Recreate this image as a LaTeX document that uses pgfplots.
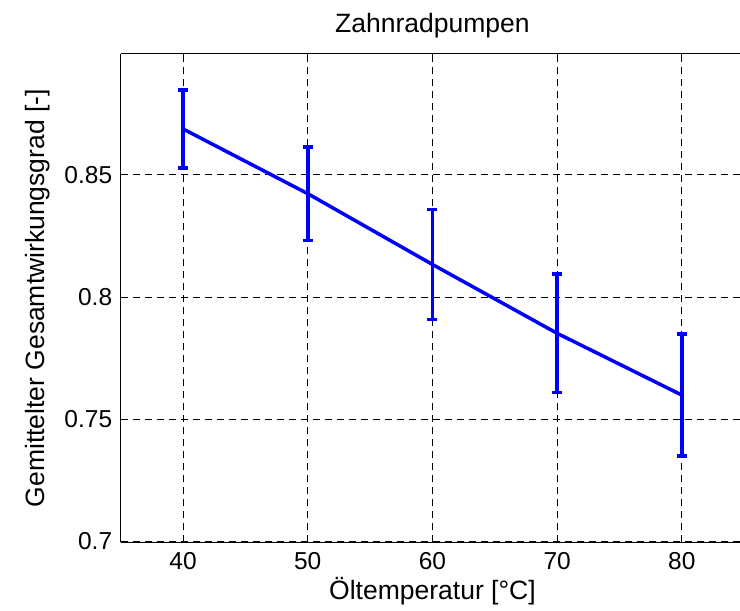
\documentclass[border=0pt]{standalone}
\usepackage{fontspec}
\setmainfont{Liberation Sans}
\usepackage{pgfplots}
\pgfplotsset{compat=1.18}

% Mean overall efficiency of gear pumps vs. oil temperature (mean +/- spread)
\begin{document}
\begin{tikzpicture}[x=1pt,y=1pt]
\begin{axis}[
  at={(120.7pt,68.7pt)}, anchor=south west,
  scale only axis,
  width=623.5pt, height=488.3pt,
  xmin=35, xmax=85,
  ymin=0.6995, ymax=0.8995,
  xtick={40,50,60,70,80},
  ytick={0.7,0.75,0.8,0.85},
  yticklabels={0.7,0.75,0.8,0.85},
  axis y line*=left,
  /pgf/number format/assume math mode=true,
  tick label style={font=\fontsize{24.5}{28}\selectfont, black},
  xticklabel style={yshift=-7pt},
  yticklabel style={xshift=-5pt},
  label style={font=\fontsize{26.5}{30}\selectfont},
  title style={font=\fontsize{26.5}{30}\selectfont},
  tick align=inside,
  major tick length=6pt,
  tick style={black, line width=0.8pt},
  axis line style={black, line width=1pt},
  grid=major,
  major grid style={black, line width=0.8pt, dash pattern=on 7pt off 5pt},
  title={Zahnradpumpen},
  title style={at={(axis description cs:0.5,1.031)}, anchor=base},
  xlabel={Öltemperatur [°C]},
  xlabel style={at={(axis description cs:0.5,-0.118)}, anchor=base},
  ylabel={Gemittelter Gesamtwirkungsgrad [-]},
  ylabel style={at={(axis description cs:-0.108,0.5)}, anchor=south, rotate=0},
  clip=false,
]
\addplot[
  color=blue, line width=3.5pt,
  error bars/.cd,
    y dir=both, y explicit,
    error bar style={line width=3.5pt, blue},
    error mark options={blue, line width=3.5pt, mark size=5pt, rotate=90},
] coordinates {
  (40,0.8688) +- (0,0.0159)
  (50,0.8423) +- (0,0.0191)
  (60,0.8133) +- (0,0.0225)
  (70,0.7851) +- (0,0.0242)
  (80,0.7598) +- (0,0.0250)
};
\end{axis}
\pgfresetboundingbox
\path[use as bounding box] (0,0) rectangle (740,611);
\end{tikzpicture}
\end{document}
